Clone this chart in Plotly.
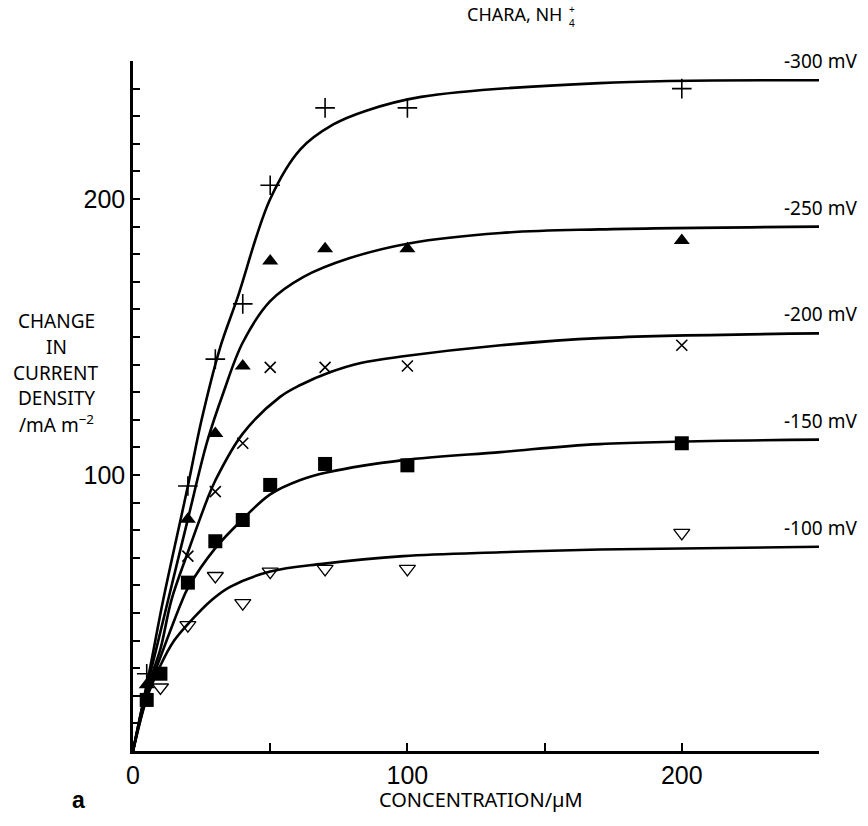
import plotly.graph_objects as go

# Measured points (concentration in µM, change in current density in mA m^-2)
conc_300 = [5, 20, 30, 40, 50, 70, 100, 200]
val_300 = [28, 96, 142, 162, 205, 233, 233, 240]

conc_250 = [5, 20, 30, 40, 50, 70, 100, 200]
val_250 = [24, 84, 115, 139.5, 177.5, 182, 182, 185]

conc_200 = [20, 30, 40, 50, 70, 100, 200]
val_200 = [70.6, 94, 111.5, 139, 139, 139.5, 147]

conc_150 = [5, 10, 20, 30, 40, 50, 70, 100, 200]
val_150 = [18.5, 28, 61, 76, 83.7, 96.4, 104, 103.5, 111.5]

conc_100 = [10, 20, 30, 40, 50, 70, 100, 200]
val_100 = [23, 45.6, 63.4, 53.6, 65, 66, 66, 79]

# Fitted curves traced along their length
fit_300_x = [0, 6, 11, 20, 25, 31.7, 38, 50, 61, 73, 85, 105, 170, 250]
fit_300_y = [0, 29, 54.7, 96, 120, 146, 164, 200, 218, 227, 232, 237, 242, 243]

fit_250_x = [0, 5, 8, 12.8, 20, 27, 33, 40, 50, 62, 79, 101, 134, 170, 250]
fit_250_y = [0, 23, 35, 54.7, 84, 112, 130, 148, 163, 171.7, 178.6, 184, 187.7, 189, 190]

fit_200_x = [0, 5, 10, 14, 20, 27, 30, 40, 53.6, 61, 72, 83, 98.5, 134, 170, 250]
fit_200_y = [0, 22, 37, 54.7, 72, 91, 98, 115, 128.3, 132.6, 137.3, 140.6, 143, 147, 149.6, 151.3]

fit_150_x = [0, 5, 10, 18, 20, 30, 40, 50, 61, 71, 98.5, 134, 170, 250]
fit_150_y = [0, 20, 34, 54.7, 59, 73.5, 84, 93, 98.2, 101, 105.4, 108.3, 111.2, 112.8]

fit_100_x = [0, 5, 10, 15, 20, 29, 35.4, 50, 69, 98.5, 134, 170, 250]
fit_100_y = [0, 19, 31, 40, 46, 55, 59.5, 65, 67.8, 70.6, 72, 73, 74]

curve_labels = ["-300 mV", "-250 mV", "-200 mV", "-150 mV", "-100 mV"]
y_title_lines = ["CHANGE", "IN", "CURRENT", "DENSITY", "/mA m<sup>−2</sup>"]

x_ticks = [0, 100, 200]
y_ticks = [100, 200]

TEXT_FONT = "Noto Sans, DejaVu Sans, sans-serif"
NUM_FONT = "Liberation Sans Narrow, Liberation Sans, Arial, sans-serif"

fig = go.Figure()

fits = [
    (fit_300_x, fit_300_y),
    (fit_250_x, fit_250_y),
    (fit_200_x, fit_200_y),
    (fit_150_x, fit_150_y),
    (fit_100_x, fit_100_y),
]
for fx, fy in fits:
    fig.add_trace(go.Scatter(
        x=fx, y=fy, mode="lines",
        line=dict(color="black", width=2.6, shape="spline", smoothing=1.0),
        hoverinfo="skip", showlegend=False,
    ))

markers = [
    (conc_300, val_300, dict(symbol="cross-thin", size=14, line=dict(color="black", width=1.6), color="black")),
    (conc_250, val_250, dict(symbol="triangle-up", size=14, color="black", line=dict(width=0))),
    (conc_200, val_200, dict(symbol="x-thin", size=11, line=dict(color="black", width=1.6), color="black")),
    (conc_150, val_150, dict(symbol="square", size=14, color="black", line=dict(width=0))),
    (conc_100, val_100, dict(symbol="triangle-down-open", size=14, color="black", line=dict(color="black", width=1.3))),
]
for mx, my, mk in markers:
    fig.add_trace(go.Scatter(x=mx, y=my, mode="markers", marker=mk, showlegend=False))

annotations = []
ends = [fit_300_y[-1], fit_250_y[-1], fit_200_y[-1], fit_150_y[-1], fit_100_y[-1]]
for lab, yend in zip(curve_labels, ends):
    annotations.append(dict(
        x=250, y=yend, xref="x", yref="y", text=lab, showarrow=False,
        xanchor="right", yanchor="middle", xshift=40, yshift=19,
        font=dict(family=TEXT_FONT, size=19, color="black"),
    ))

# y-axis title, one annotation per line
title_rows = [0.6237, 0.5861, 0.5485, 0.5109, 0.4732]
for line, yp in zip(y_title_lines, title_rows):
    annotations.append(dict(
        x=-0.112, y=yp, xref="paper", yref="paper", text=line,
        showarrow=False, align="center", xanchor="center", yanchor="middle",
        borderpad=0,
        font=dict(family=TEXT_FONT, size=19, color="black"),
    ))

# x-axis title
annotations.append(dict(
    x=0.507, y=-0.071, xref="paper", yref="paper",
    text="CONCENTRATION/µM", showarrow=False,
    xanchor="center", yanchor="middle",
    font=dict(family=TEXT_FONT, size=20, color="black"),
))

# panel letter
annotations.append(dict(
    x=-0.080, y=-0.071, xref="paper", yref="paper", text="<b>a</b>",
    showarrow=False, xanchor="center", yanchor="middle",
    font=dict(family="Liberation Sans, Arial, sans-serif", size=23, color="black"),
))

# heading: CHARA, NH4+ with stacked charge and subscript
annotations.append(dict(
    x=0.629, y=1.068, xref="paper", yref="paper", text="CHARA, NH",
    showarrow=False, xanchor="right", yanchor="middle",
    font=dict(family=TEXT_FONT, size=18, color="black"),
))
annotations.append(dict(
    x=0.634, y=1.0753, xref="paper", yref="paper", text="+",
    showarrow=False, xanchor="left", yanchor="middle", borderpad=0,
    font=dict(family=TEXT_FONT, size=10, color="black"),
))
annotations.append(dict(
    x=0.634, y=1.055, xref="paper", yref="paper", text="4",
    showarrow=False, xanchor="left", yanchor="middle", borderpad=0,
    font=dict(family=TEXT_FONT, size=10, color="black"),
))

fig.update_layout(
    width=868, height=826,
    margin=dict(l=133, r=49, t=61, b=75),
    paper_bgcolor="white", plot_bgcolor="white",
    annotations=annotations,
    showlegend=False,
)

fig.update_xaxes(
    range=[0, 250], showgrid=False, zeroline=False,
    showline=True, linecolor="black", linewidth=2.5,
    tickmode="array", tickvals=x_ticks, ticktext=[str(v) for v in x_ticks],
    ticks="inside", ticklen=8, tickwidth=2, tickcolor="black",
    minor=dict(dtick=50, tick0=0, ticks="inside", ticklen=8, tickwidth=2, tickcolor="black"),
    tickfont=dict(family=NUM_FONT, size=25, color="black"),
)
fig.update_yaxes(
    range=[0, 250], showgrid=False, zeroline=False,
    showline=True, linecolor="black", linewidth=2.5,
    tickmode="array", tickvals=y_ticks, ticktext=[str(v) for v in y_ticks],
    ticks="inside", ticklen=7, tickwidth=2, tickcolor="black",
    minor=dict(dtick=10, tick0=0, ticks="inside", ticklen=7, tickwidth=2, tickcolor="black"),
    tickfont=dict(family=NUM_FONT, size=25, color="black"),
)

fig.write_html("out.html")
